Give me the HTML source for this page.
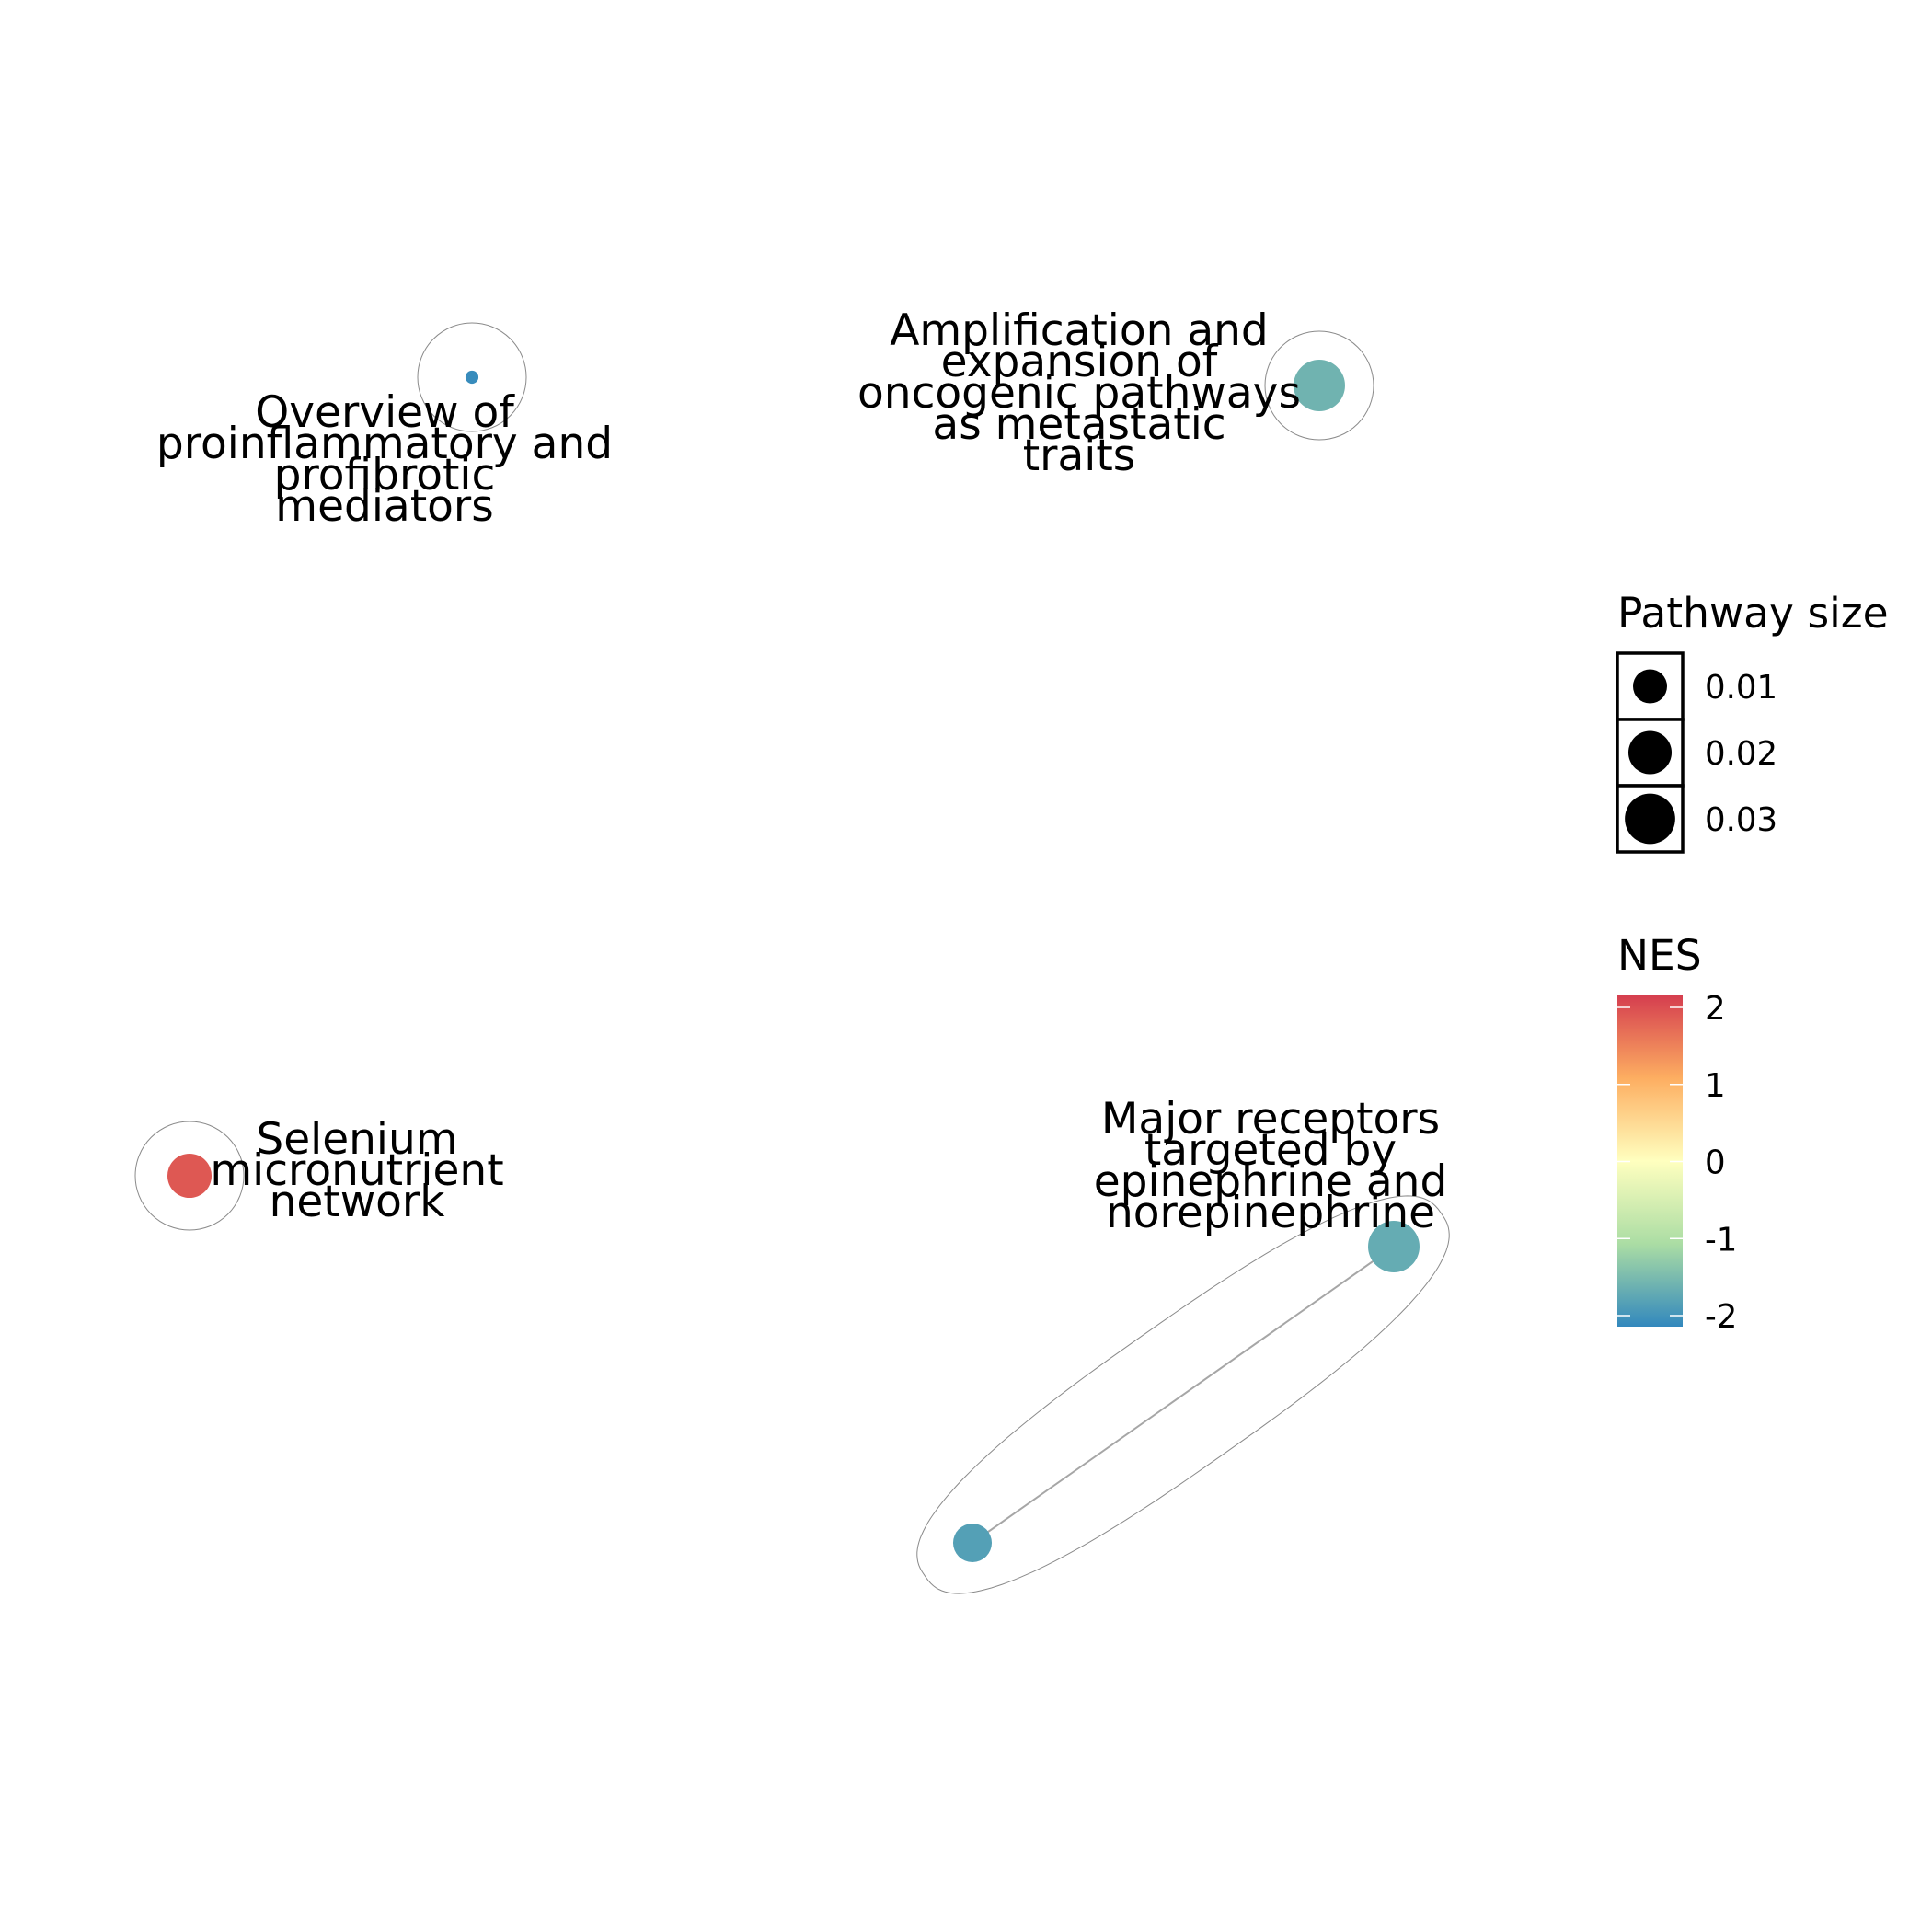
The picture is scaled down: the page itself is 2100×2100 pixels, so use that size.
<!DOCTYPE html>
<html><head><meta charset="utf-8"><style>
html,body{margin:0;padding:0;background:#fff}
svg{display:block}
text{font-family:"DejaVu Sans","Liberation Sans",sans-serif;fill:#000}
</style></head><body>
<svg id="chart" width="2100" height="2100" viewBox="0 0 2100 2100" xmlns="http://www.w3.org/2000/svg">
<defs>
<linearGradient id="nesGrad" x1="0" y1="1" x2="0" y2="0">
<stop offset="0" stop-color="#3288bd"/>
<stop offset="0.25" stop-color="#abdda4"/>
<stop offset="0.5" stop-color="#ffffbf"/>
<stop offset="0.75" stop-color="#fdae61"/>
<stop offset="1" stop-color="#d53e4f"/>
</linearGradient>
</defs>
<g id="hulls"></g>
<g id="edges"></g>
<g id="nodes"></g>
<g id="labels"></g>

<g>
<text x="1758" y="682" font-size="45.5">Pathway size</text>
<g id="sizeKeys"></g>
</g>
<g>
<text x="1758" y="1054" font-size="45.5">NES</text>
<rect x="1758" y="1082" width="71" height="360" fill="url(#nesGrad)"/>
<g id="nesTicks"></g>
</g>
</svg>
<script>
const names = ["Overview of proinflammatory and profibrotic mediators","Amplification and expansion of oncogenic pathways as metastatic traits","Selenium micronutrient network","Major receptors targeted by epinephrine and norepinephrine","Unlabeled pathway"];
const labelLines = [["Overview of","proinflammatory and","profibrotic","mediators"],["Amplification and","expansion of","oncogenic pathways","as metastatic","traits"],["Selenium","micronutrient","network"],["Major receptors","targeted by","epinephrine and","norepinephrine"],[]];
const layoutX = [5.13, 14.34, 2.06, 15.15, 10.57];
const layoutY = [4.10, 4.19, 12.78, 13.55, 16.77];
const labelX = [4.18, 11.73, 3.88, 13.81, 0];
const labelY = [4.49, 3.60, 12.39, 12.17, 0];
const nes = [-2.1, -1.6, 1.9, -1.7, -1.85];
const pathwaySize = [0.00003, 0.0318, 0.0212, 0.0318, 0.0146];
const edgesFrom = [3];
const edgesTo = [4];
const clusters = [[0],[1],[2],[3,4]];
const sizeBreaks = [0.01, 0.02, 0.03];
const sizeBreakLabels = ["0.01","0.02","0.03"];
const nesTicks = [2, 1, 0, -1, -2];
const nesTickLabels = ["2","1","0","-1","-2"];

const NS = "http://www.w3.org/2000/svg";
const xS = v => v * 100;
const yS = v => v * 100;
const rS = s => 121 * Math.sqrt(s) + 6.4;
const nesY = v => 1262.5 - v * 83.75;
const stops = [[-2.15,[50,136,189]],[-1.075,[171,221,164]],[0,[255,255,191]],[1.075,[253,174,97]],[2.15,[213,62,79]]];
function col(v){
  v = Math.max(-2.15, Math.min(2.15, v));
  for (let i=0;i<stops.length-1;i++){
    const a=stops[i], b=stops[i+1];
    if (v<=b[0]){ const t=(v-a[0])/(b[0]-a[0]);
      const c=a[1].map((x,k)=>Math.round(x+(b[1][k]-x)*t));
      return `rgb(${c[0]},${c[1]},${c[2]})`; }
  }
  return "rgb(213,62,79)";
}
function mk(tag, attrs, parent){
  const e=document.createElementNS(NS,tag);
  for (const k in attrs) e.setAttribute(k, attrs[k]);
  parent.appendChild(e); return e;
}
const hullG=document.getElementById('hulls');
const HR=59;
clusters.forEach((cl,ci)=>{
  let el;
  if (cl.length===1){
    el=mk('circle',{cx:xS(layoutX[cl[0]]),cy:yS(layoutY[cl[0]]),r:HR,fill:'none',stroke:'#8a8a8a','stroke-width':1},hullG);
  } else {
    const x1=xS(layoutX[cl[0]]),y1=yS(layoutY[cl[0]]),x2=xS(layoutX[cl[1]]),y2=yS(layoutY[cl[1]]);
    const cx=(x1+x2)/2, cy=(y1+y2)/2, L=Math.hypot(x2-x1,y2-y1);
    const ux=(x2-x1)/L, uy=(y2-y1)/L;
    const a=L/2+63, b=78, n=2.6;
    let d='';
    for (let k=0;k<=180;k++){
      const t=k/180*2*Math.PI, c=Math.cos(t), s=Math.sin(t);
      const px=a*Math.sign(c)*Math.pow(Math.abs(c),2/n), py=b*Math.sign(s)*Math.pow(Math.abs(s),2/n);
      const X=cx+px*ux-py*uy, Y=cy+px*uy+py*ux;
      d+=(k?'L':'M')+X.toFixed(1)+','+Y.toFixed(1);
    }
    el=mk('path',{d:d+'Z',fill:'none',stroke:'#8a8a8a','stroke-width':1},hullG);
  }
  
  
});
const edgeG=document.getElementById('edges');
edgesFrom.forEach((f,i)=>{
  const t=edgesTo[i];
  const e=mk('line',{x1:xS(layoutX[f]),y1:yS(layoutY[f]),x2:xS(layoutX[t]),y2:yS(layoutY[t]),stroke:'#a6a6a6','stroke-width':2},edgeG);
  
  
});
const nodeG=document.getElementById('nodes');
names.forEach((n,i)=>{
  const c=mk('circle',{cx:xS(layoutX[i]),cy:yS(layoutY[i]),r:rS(pathwaySize[i]),fill:col(nes[i])},nodeG);
  
  
  const tt=mk('title',{},c); tt.textContent=n;
});
const labG=document.getElementById('labels');
labelLines.forEach((lines,i)=>{
  lines.forEach((ln,j)=>{
    const t=mk('text',{x:xS(labelX[i]),y:yS(labelY[i])+j*34+15,'text-anchor':'middle','font-size':47},labG);
    t.textContent=ln;
    
    
  });
});
const sk=document.getElementById('sizeKeys');
sizeBreaks.forEach((s,i)=>{
  const y0=710+i*72;
  const r=mk('rect',{x:1758,y:y0,width:71,height:72,fill:'#fff',stroke:'#000','stroke-width':3.5},sk);
  
  
  const c=mk('circle',{cx:1793.5,cy:y0+36,r:rS(s),fill:'#000'},sk);
  
  
  const t=mk('text',{x:1853,y:y0+49,'font-size':35.5},sk);
  t.textContent=sizeBreakLabels[i];
  
  
});
const nt=document.getElementById('nesTicks');
nesTicks.forEach((v,i)=>{
  const y=nesY(v);
  [[1758,1772],[1815,1829]].forEach(p=>{
    const l=mk('line',{x1:p[0],x2:p[1],y1:y,y2:y,stroke:'#fff','stroke-width':1.5},nt);
    
    
  });
  const t=mk('text',{x:1853,y:y+13,'font-size':35.5},nt);
  t.textContent=nesTickLabels[i];
  
  
});
</script>
</body></html>
